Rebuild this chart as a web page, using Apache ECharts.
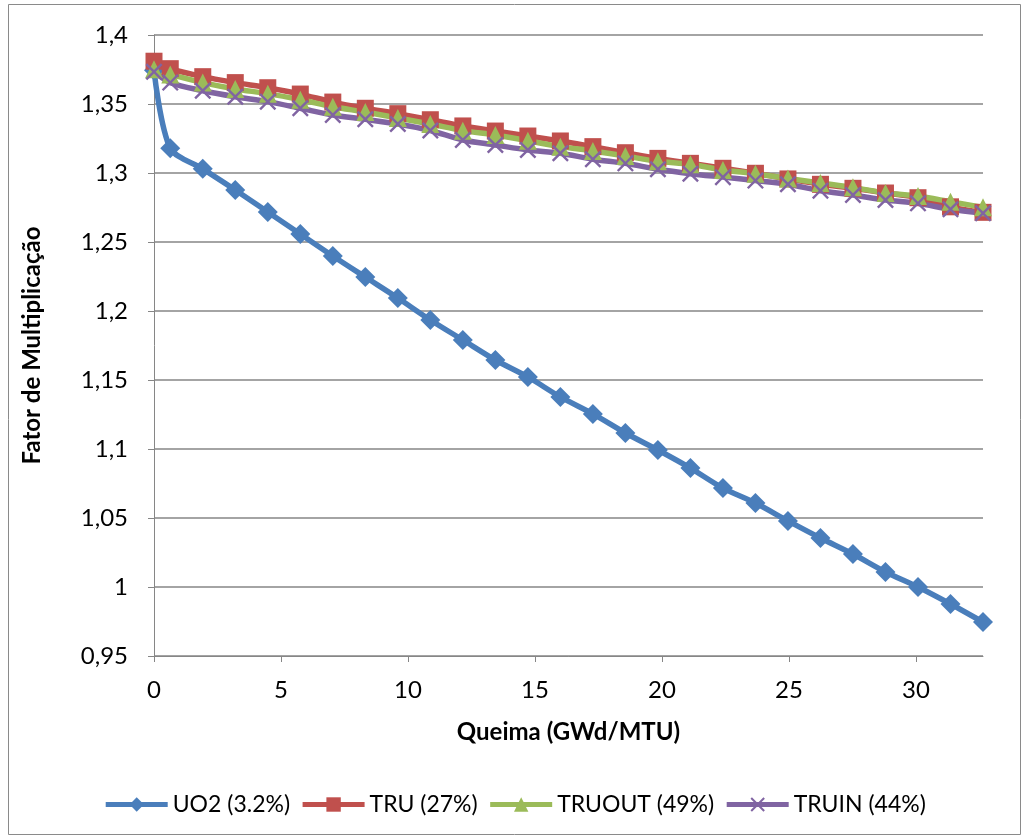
<!DOCTYPE html>
<html>
<head>
<meta charset="utf-8">
<script src="https://cdn.jsdelivr.net/npm/echarts@6/dist/echarts.min.js"></script>
<style>
  html, body { margin: 0; padding: 0; background: #ffffff; }
  #chart { width: 1029px; height: 839px; }
</style>
</head>
<body>
<div id="chart"></div>
<script>
// Burnup steps (GWd/MTU)
const burnup = [0, 0.64, 1.92, 3.2, 4.48, 5.76, 7.04, 8.32, 9.6, 10.88, 12.16, 13.44, 14.72, 16.0,
  17.28, 18.56, 19.84, 21.12, 22.4, 23.68, 24.96, 26.24, 27.52, 28.8, 30.08, 31.36, 32.64];

// Multiplication factor for each fuel
const kUO2 = [1.3745, 1.318, 1.303, 1.2877, 1.2717, 1.2558, 1.2399, 1.2246, 1.2094, 1.1935, 1.179,
  1.1645, 1.1522, 1.1377, 1.1254, 1.1116, 1.0993, 1.0862, 1.0717, 1.0609, 1.0479, 1.0355, 1.0239,
  1.0109, 1.0, 0.9877, 0.9746];
const kTRU = [1.381, 1.3756, 1.3698, 1.3655, 1.3618, 1.3572, 1.3514, 1.3469, 1.343, 1.3386, 1.3341,
  1.3304, 1.3268, 1.3232, 1.3191, 1.3147, 1.3106, 1.307, 1.3034, 1.2998, 1.2957, 1.2918, 1.2889,
  1.2855, 1.2821, 1.2755, 1.2715];
const kTRUOUT = [1.3751, 1.3714, 1.3655, 1.3609, 1.3575, 1.3531, 1.348, 1.3442, 1.3399, 1.3355, 1.3307,
  1.3275, 1.3234, 1.3191, 1.316, 1.3123, 1.3085, 1.3063, 1.3022, 1.2995, 1.2961, 1.2928, 1.2896,
  1.2855, 1.2833, 1.2792, 1.2751];
const kTRUIN = [1.3734, 1.3655, 1.3596, 1.3553, 1.3517, 1.3469, 1.342, 1.3389, 1.3355, 1.3308, 1.3239,
  1.3203, 1.3167, 1.3143, 1.31, 1.307, 1.3027, 1.2995, 1.297, 1.2945, 1.2918, 1.2872, 1.2841,
  1.2804, 1.278, 1.2737, 1.2708];

const seriesNames = ['UO2 (3.2%)', 'TRU (27%)', 'TRUOUT (49%)', 'TRUIN (44%)'];
const xTicks = [0, 5, 10, 15, 20, 25, 30];
const yTicks = [0.95, 1, 1.05, 1.1, 1.15, 1.2, 1.25, 1.3, 1.35, 1.4];

const FONT = 'Lato, "Open Sans", sans-serif';
const AXIS_GREY = '#868686';
const crossPath = 'path://M0,1 L1,0 L5,4 L9,0 L10,1 L6,5 L10,9 L9,10 L5,6 L1,10 L0,9 L4,5 Z';

function pairs(ys) { return burnup.map((x, i) => [x, ys[i]]); }
function commaNum(v) { return String(+v.toFixed(2)).replace('.', ','); }

function lineSeries(name, ys, color, symbol, size) {
  return {
    name: name,
    type: 'line',
    data: pairs(ys),
    smooth: 0.3,
    symbol: symbol,
    symbolSize: size,
    showAllSymbol: true,
    lineStyle: { color: color, width: 5.5 },
    itemStyle: { color: color },
    emphasis: { disabled: true }
  };
}

const chart = echarts.init(document.getElementById('chart'), null, { renderer: 'canvas' });
chart.setOption({
  animation: false,
  backgroundColor: '#ffffff',
  textStyle: { fontFamily: FONT },
  graphic: [{
    type: 'rect',
    shape: { x: 8.5, y: 4.5, width: 1012, height: 830 },
    style: { fill: 'none', stroke: '#8a8a8a', lineWidth: 1 },
    silent: true
  }],
  grid: { left: 154, right: 46, top: 35, bottom: 183, containLabel: false },
  xAxis: {
    type: 'value',
    min: 0,
    max: burnup[burnup.length - 1],
    name: 'Queima (GWd/MTU)',
    nameLocation: 'middle',
    nameGap: 64,
    nameTextStyle: { fontFamily: FONT, fontWeight: 'bold', fontSize: 24, color: '#000' },
    axisLine: { onZero: false, lineStyle: { color: AXIS_GREY, width: 1 } },
    axisTick: { show: true, length: 6, customValues: xTicks, lineStyle: { color: AXIS_GREY } },
    axisLabel: { customValues: xTicks, margin: 22, fontSize: 24, color: '#000', fontFamily: FONT },
    splitLine: { show: false }
  },
  yAxis: {
    type: 'value',
    min: 0.95,
    max: 1.4,
    interval: 0.05,
    name: 'Fator de Multiplicação',
    nameLocation: 'middle',
    nameRotate: 90,
    nameGap: 110,
    nameTextStyle: { fontFamily: FONT, fontWeight: 'bold', fontSize: 24, color: '#000' },
    axisLine: { show: true, lineStyle: { color: AXIS_GREY, width: 1 } },
    axisTick: { show: true, length: 6, customValues: yTicks, lineStyle: { color: AXIS_GREY } },
    axisLabel: { customValues: yTicks, margin: 26, fontSize: 24, color: '#000', fontFamily: FONT,
      formatter: commaNum },
    splitLine: { show: true, lineStyle: { color: AXIS_GREY, width: 1.5 } }
  },
  legend: {
    data: seriesNames,
    top: 788,
    left: 'center',
    itemWidth: 62,
    itemHeight: 18,
    itemGap: 10,
    lineStyle: { width: 5 },
    textStyle: { fontFamily: FONT, fontSize: 23, color: '#000' }
  },
  series: [
    lineSeries(seriesNames[0], kUO2, '#4a7ebb', 'diamond', 20),
    lineSeries(seriesNames[1], kTRU, '#c0504d', 'rect', 17),
    lineSeries(seriesNames[2], kTRUOUT, '#9bbb59', 'triangle', 18),
    lineSeries(seriesNames[3], kTRUIN, '#8064a2', crossPath, 17)
  ]
});
</script>
</body>
</html>
